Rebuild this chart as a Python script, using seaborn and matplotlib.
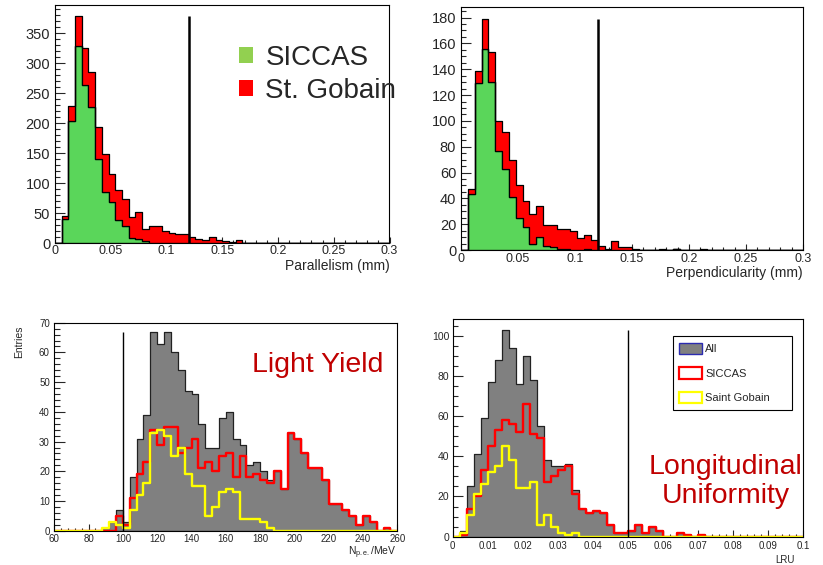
import numpy as np
import pandas as pd
import matplotlib
matplotlib.use("Agg")
import matplotlib.pyplot as plt
import seaborn as sns
from matplotlib.patches import Patch
from matplotlib.ticker import MultipleLocator, FuncFormatter

# ---------------- data ----------------
# Parallelism (mm): 50 bins of 0.006 mm on [0, 0.3]
par_range = (0.0, 0.3)
par_siccas = [0, 40, 203, 328, 263, 227, 140, 86, 69, 38, 28, 8, 7, 3, 1] + [0] * 35
par_gobain = [0, 5, 25, 50, 62, 58, 53, 63, 46, 51, 45, 35, 45, 20, 27, 28, 21, 17, 15, 15,
              10, 7, 5, 11, 5, 3, 2, 5, 1] + [0] * 21
par_cut = 0.12

# Perpendicularity (mm): 50 bins of 0.006 mm on [0, 0.3]
perp_range = (0.0, 0.3)
perp_siccas = [0, 43, 129, 156, 130, 77, 63, 41, 25, 18, 5, 10, 3, 2, 1, 1, 0, 0, 1, 0] \
    + [0] * 11 + [1] + [0] * 18
perp_gobain = [0, 4, 10, 23, 23, 23, 28, 29, 25, 20, 23, 24, 16, 17, 15, 15, 15, 9, 11, 8,
               3, 1, 7, 2, 2, 1, 0, 0, 0, 1, 0, 0, 0, 0, 0, 1] + [0] * 14
perp_cut = 0.12

# Light yield (N_pe/MeV): 50 bins of 4 on [60, 260]
ly_range = (60, 260)
ly_all = [0, 0, 0, 0, 0, 0, 0, 1, 3, 7, 3, 18, 31, 39, 67, 63, 67, 60, 54, 47,
          46, 36, 28, 28, 38, 40, 31, 29, 22, 23, 20, 17, 20, 14, 33, 31, 26, 21, 21, 17,
          9, 9, 7, 5, 2, 5, 3, 0, 1, 0]
ly_siccas = [0, 0, 0, 0, 0, 0, 0, 0, 0, 5, 2, 11, 19, 23, 34, 29, 35, 35, 26, 28,
             31, 21, 23, 20, 25, 26, 18, 25, 18, 19, 17, 16, 20, 14, 33, 31, 26, 21, 21, 17,
             9, 9, 7, 5, 2, 5, 3, 0, 1, 0]
ly_sg = [0, 0, 0, 0, 0, 0, 0, 1, 3, 2, 1, 7, 12, 16, 33, 34, 32, 25, 28, 19,
         15, 15, 5, 8, 13, 14, 13, 4, 4, 4, 3, 1] + [0] * 18
ly_cut = 100

# Longitudinal response uniformity: 50 bins of 0.002 on [0, 0.1]
lru_range = (0.0, 0.1)
lru_all = [0, 3, 25, 41, 59, 77, 88, 103, 94, 76, 90, 78, 55, 38, 35, 35, 36, 23, 14, 12,
           13, 12, 6, 2, 2, 3, 6, 2, 5, 3, 0, 0, 2, 1, 0, 1] + [0] * 14
lru_siccas = [0, 1, 14, 20, 33, 45, 53, 58, 56, 52, 66, 51, 49, 27, 30, 33, 35, 21, 14, 12,
              13, 12, 6, 2, 2, 3, 6, 2, 5, 3, 0, 0, 2, 1, 0, 1] + [0] * 14
lru_sg = [0, 2, 11, 21, 26, 32, 35, 45, 38, 24, 24, 27, 6, 11, 5, 2, 1, 2] + [0] * 32
lru_cut = 0.05

N_BINS = 50

# ---------------- style ----------------
sns.set_style("ticks")
plt.rcParams["font.family"] = ["Liberation Sans", "DejaVu Sans"]
plt.rcParams["mathtext.fontset"] = "custom"
plt.rcParams["mathtext.rm"] = "Liberation Sans"
plt.rcParams["mathtext.it"] = "Liberation Sans:italic"

GREEN = "#5ad65a"
RED = "#ff0000"
GRAY = "#808080"
YELLOW = "#ffff00"
DARKRED = "#c00000"

W, H = 823, 565
fig = plt.figure(figsize=(W / 100, H / 100), dpi=100)


def add_axes(l, r, t, b):
    return fig.add_axes([l / W, 1 - b / H, (r - l) / W, (b - t) / H])


def ftext(x, y, s, **kw):
    return fig.text(x / W, 1 - y / H, s, **kw)


fmt = FuncFormatter(lambda v, p: "%g" % round(v, 6))


def style_axes(ax, xmaj, xmin, ymaj, ymin, xfs, yfs, ylen, xlen, xpad, ypad):
    ax.xaxis.set_major_locator(MultipleLocator(xmaj))
    ax.xaxis.set_minor_locator(MultipleLocator(xmin))
    ax.yaxis.set_major_locator(MultipleLocator(ymaj))
    ax.yaxis.set_minor_locator(MultipleLocator(ymin))
    ax.xaxis.set_major_formatter(fmt)
    ax.yaxis.set_major_formatter(fmt)
    ax.tick_params(axis="x", which="major", direction="in", length=xlen, width=0.8,
                   labelsize=xfs, pad=xpad)
    ax.tick_params(axis="x", which="minor", direction="in", length=xlen / 2, width=0.8)
    ax.tick_params(axis="y", which="major", direction="in", length=ylen, width=0.8,
                   labelsize=yfs, pad=ypad)
    ax.tick_params(axis="y", which="minor", direction="in", length=ylen / 2, width=0.8)
    for s in ax.spines.values():
        s.set_visible(True)
        s.set_color("black")
        s.set_linewidth(0.8)
    ax.set_xlabel("")
    ax.set_ylabel("")


def centers_of(rng):
    edges = np.linspace(rng[0], rng[1], N_BINS + 1)
    return (edges[:-1] + edges[1:]) / 2


def stacked(ax, rng, siccas, gobain, cut):
    centers = centers_of(rng)
    df = pd.DataFrame({
        "x": np.concatenate([centers, centers]),
        "n": np.concatenate([siccas, gobain]),
        "supplier": ["SICCAS"] * N_BINS + ["St. Gobain"] * N_BINS,
    })
    sns.histplot(data=df, x="x", weights="n", hue="supplier",
                 hue_order=["St. Gobain", "SICCAS"], multiple="stack",
                 bins=N_BINS, binrange=rng, element="step", fill=True, alpha=1,
                 palette={"SICCAS": GREEN, "St. Gobain": RED},
                 edgecolor="black", linewidth=0.9, legend=False, ax=ax)
    total = np.array(siccas) + np.array(gobain)
    ax.vlines(cut, 0, total.max(), color="black", lw=1.8, zorder=5)
    ax.set_xlim(*rng)
    ax.set_ylim(0, total.max() * 1.05)


def outlined(ax, rng, all_, siccas, sg, cut, top=None):
    centers = centers_of(rng)
    sns.histplot(x=centers, weights=all_, bins=N_BINS, binrange=rng, element="step",
                 fill=True, color=GRAY, alpha=1, edgecolor="#222222", linewidth=0.9, ax=ax)
    sns.histplot(x=centers, weights=siccas, bins=N_BINS, binrange=rng, element="step",
                 fill=False, color=RED, linewidth=1.7, ax=ax)
    sns.histplot(x=centers, weights=sg, bins=N_BINS, binrange=rng, element="step",
                 fill=False, color=YELLOW, linewidth=1.7, ax=ax)
    ax.vlines(cut, 0, max(all_), color="black", lw=1.0, zorder=5)
    ax.set_xlim(*rng)
    ax.set_ylim(0, top if top is not None else max(all_) * 1.05)


# ---- top-left: parallelism ----
ax1 = add_axes(55, 389.5, 5, 243.3)
stacked(ax1, par_range, par_siccas, par_gobain, par_cut)
style_axes(ax1, 0.05, 0.01, 50, 10, 9, 10.5, 7, 4.5, 1.5, 3.5)
ftext(389.5, 266, "Parallelism (mm)", ha="right", va="center", fontsize=10)
ax1.legend(handles=[Patch(facecolor="#92d050", edgecolor="none", label="SICCAS"),
                    Patch(facecolor=RED, edgecolor="none", label="St. Gobain")],
           loc="upper left", bbox_to_anchor=(239 / W, 1 - 45 / H),
           bbox_transform=fig.transFigure, frameon=False, fontsize=20,
           handlelength=0.5, handleheight=0.5, handletextpad=0.45,
           labelspacing=0.25, borderpad=0, borderaxespad=0)

# ---- top-right: perpendicularity ----
ax2 = add_axes(461, 803, 7.3, 250)
stacked(ax2, perp_range, perp_siccas, perp_gobain, perp_cut)
style_axes(ax2, 0.05, 0.01, 20, 5, 9, 10.5, 7, 4.5, 2.5, 3.5)
ftext(803, 273, "Perpendicularity (mm)", ha="right", va="center", fontsize=10)

# ---- bottom-left: light yield ----
ax3 = add_axes(54.3, 397.3, 322.7, 530.7)
outlined(ax3, ly_range, ly_all, ly_siccas, ly_sg, ly_cut, top=70)
style_axes(ax3, 20, 4, 10, 2, 7, 7, 8, 5, 2.6, 3.2)
ftext(397, 553, r"N$_{\rm p.e.}$/MeV", ha="right", va="center", fontsize=7.5)
ftext(19, 325, "Entries", rotation=90, ha="center", va="top", fontsize=7.5)
ax3.text(0.96, 0.765, "Light Yield", transform=ax3.transAxes, ha="right",
         va="baseline", fontsize=20.5, color=DARKRED)

# ---- bottom-right: LRU ----
ax4 = add_axes(452.7, 803.3, 319.3, 536.7)
outlined(ax4, lru_range, lru_all, lru_siccas, lru_sg, lru_cut)
style_axes(ax4, 0.01, 0.002, 20, 5, 7, 7.5, 7.5, 5, 3.0, 2.5)
ftext(795, 560, "LRU", ha="right", va="center", fontsize=7)
ax4.text(0.778, 0.288, "Longitudinal", transform=ax4.transAxes, ha="center",
         va="baseline", fontsize=20.5, color=DARKRED)
ax4.text(0.778, 0.154, "Uniformity", transform=ax4.transAxes, ha="center",
         va="baseline", fontsize=20.5, color=DARKRED)
ax4.legend(handles=[Patch(facecolor=GRAY, edgecolor="#2b2bb0", lw=1.0, label="All"),
                    Patch(facecolor="white", edgecolor=RED, lw=1.6, label="SICCAS"),
                    Patch(facecolor="white", edgecolor=YELLOW, lw=1.6, label="Saint Gobain")],
           loc="upper left", bbox_to_anchor=(672.7 / W, 1 - 410 / H, 119 / W, 74 / H),
           bbox_transform=fig.transFigure, mode="expand", fontsize=8,
           frameon=True, fancybox=False, edgecolor="black", framealpha=1,
           handlelength=2.0, handleheight=1.17, handletextpad=0.35,
           labelspacing=1.2, borderpad=0.6, borderaxespad=0)
ax4.get_legend().get_frame().set_linewidth(0.8)

fig.savefig("out.png", dpi=100)
